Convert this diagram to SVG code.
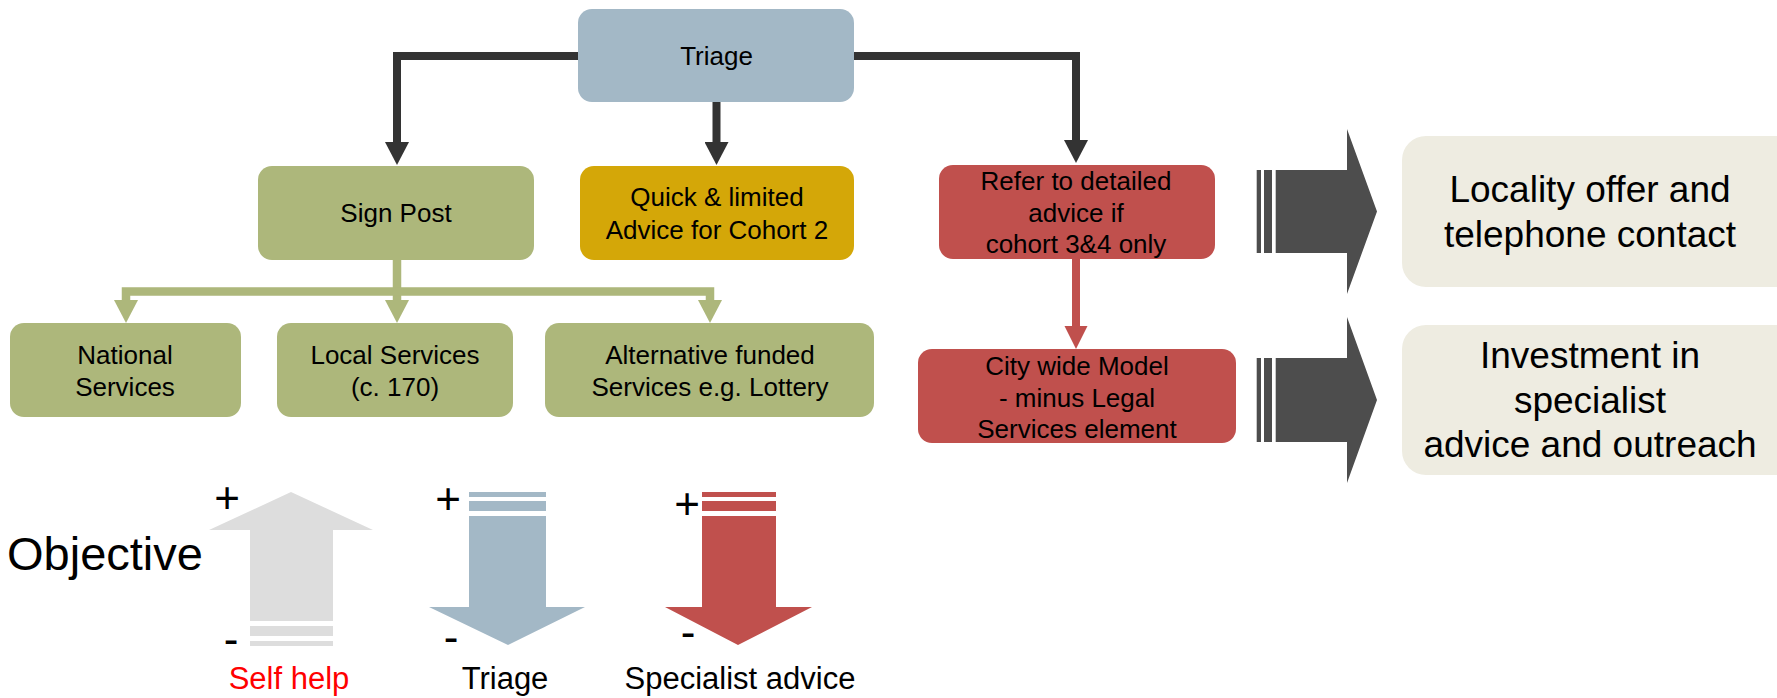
<svg xmlns="http://www.w3.org/2000/svg" width="1777" height="698" viewBox="0 0 1777 698">
<defs>
<style>
text{font-family:"Liberation Sans",Arial,Helvetica,sans-serif;fill:#000;text-anchor:middle}
.t{font-size:26px}
.big{font-size:37px}
.lab{font-size:31px}
.pm{font-size:44px}
.blue{fill:#A3B8C6}
.green{fill:#ADB77B}
.gold{fill:#D4A708}
.red{fill:#C0504D}
.beige{fill:#EEECE1}
.dark{fill:#4D4D4D}
.grey{fill:#DDDDDD}
.cd{fill:none;stroke:#333333;stroke-width:8;stroke-linejoin:miter}
.cg{fill:none;stroke:#ADB77B;stroke-width:8.5;stroke-linejoin:miter}
.cr{fill:none;stroke:#C0504D;stroke-width:8}
</style>
<marker id="ad" markerUnits="userSpaceOnUse" markerWidth="24" markerHeight="24" viewBox="0 0 24 24" refX="0" refY="12" orient="auto"><path d="M0,0 L23,12 L0,24 Z" fill="#333333"/></marker>
<marker id="ag" markerUnits="userSpaceOnUse" markerWidth="24" markerHeight="24" viewBox="0 0 24 24" refX="0" refY="12" orient="auto"><path d="M0,0 L23,12 L0,24 Z" fill="#ADB77B"/></marker>
<marker id="ar" markerUnits="userSpaceOnUse" markerWidth="24" markerHeight="24" viewBox="0 0 24 24" refX="0" refY="12" orient="auto"><path d="M0,0.5 L23,12 L0,23.5 Z" fill="#C0504D"/></marker>
</defs>

<g id="connectors">
<path class="cd" d="M580,56 H397 V142" marker-end="url(#ad)"/>
<path class="cd" d="M716.5,102 V142" marker-end="url(#ad)"/>
<path class="cd" d="M852,56 H1076 V140" marker-end="url(#ad)"/>
<path class="cg" d="M397,258 V300" marker-end="url(#ag)"/>
<path class="cg" d="M397,291.5 H126 V300" marker-end="url(#ag)"/>
<path class="cg" d="M397,291.5 H710 V300" marker-end="url(#ag)"/>
<path class="cr" d="M1076,258 V326" marker-end="url(#ar)"/>
</g>

<g id="triage">
<rect class="blue" x="578" y="9" width="276" height="93" rx="14"/>
<text class="t" x="716.5" y="65">Triage</text>
</g>
<g id="signpost">
<rect class="green" x="258" y="166" width="276" height="94" rx="14"/>
<text class="t" x="396" y="222">Sign Post</text>
</g>
<g id="quick">
<rect class="gold" x="580" y="166" width="274" height="94" rx="14"/>
<text class="t" x="717" y="206">Quick &amp; limited</text>
<text class="t" x="717" y="239">Advice for Cohort 2</text>
</g>
<g id="refer">
<rect class="red" x="939" y="165" width="276" height="94" rx="14"/>
<text class="t" x="1076" y="190">Refer to detailed</text>
<text class="t" x="1076" y="222">advice if</text>
<text class="t" x="1076" y="253">cohort 3&amp;4 only</text>
</g>
<g id="national">
<rect class="green" x="10" y="323" width="231" height="94" rx="14"/>
<text class="t" x="125" y="364">National</text>
<text class="t" x="125" y="396">Services</text>
</g>
<g id="local">
<rect class="green" x="277" y="323" width="236" height="94" rx="14"/>
<text class="t" x="395" y="364">Local Services</text>
<text class="t" x="395" y="396">(c. 170)</text>
</g>
<g id="alternative">
<rect class="green" x="545" y="323" width="329" height="94" rx="14"/>
<text class="t" x="710" y="364">Alternative funded</text>
<text class="t" x="710" y="396">Services e.g. Lottery</text>
</g>
<g id="citywide">
<rect class="red" x="918" y="349" width="318" height="94" rx="14"/>
<text class="t" x="1077" y="375">City wide Model</text>
<text class="t" x="1077" y="407">- minus Legal</text>
<text class="t" x="1077" y="438">Services element</text>
</g>

<g id="arrow1">
<rect class="dark" x="1256.7" y="170" width="4.3" height="83"/>
<rect class="dark" x="1264" y="170" width="8" height="83"/>
<path class="dark" d="M1275.7,170 H1347 V129 L1377,211.5 L1347,294 V253 H1275.7 Z"/>
</g>
<g id="arrow2">
<rect class="dark" x="1256.7" y="358" width="4.3" height="84"/>
<rect class="dark" x="1264" y="358" width="8" height="84"/>
<path class="dark" d="M1275.7,358 H1347 V317 L1377,400 L1347,483 V442 H1275.7 Z"/>
</g>

<g id="locality">
<rect class="beige" x="1402" y="136" width="400" height="151" rx="24"/>
<text class="big" x="1590" y="202">Locality offer and</text>
<text class="big" x="1590" y="247">telephone contact</text>
</g>
<g id="investment">
<rect class="beige" x="1402" y="325" width="400" height="150" rx="24"/>
<text class="big" x="1590" y="368">Investment in</text>
<text class="big" x="1590" y="413">specialist</text>
<text class="big" x="1590" y="457">advice and outreach</text>
</g>

<g id="objective">
<text x="105" y="570" style="font-size:47px">Objective</text>
</g>
<g id="selfhelp">
<path class="grey" d="M291,492 L373,530 H333 V621 H250 V530 H209 Z"/>
<rect class="grey" x="250" y="626" width="83" height="10"/>
<rect class="grey" x="250" y="641" width="83" height="5"/>
<text class="pm" x="227" y="513">+</text>
<text class="pm" x="231" y="654">-</text>
<text class="lab" x="289" y="689" style="fill:#FF0000">Self help</text>
</g>
<g id="triagearrow">
<rect class="blue" x="469" y="492" width="77" height="5"/>
<rect class="blue" x="469" y="501" width="77" height="10"/>
<path class="blue" d="M469,516 H546 V607 H585 L508,645 L429,607 H469 Z"/>
<text class="pm" x="448" y="514">+</text>
<text class="pm" x="451" y="652">-</text>
<text class="lab" x="505" y="689">Triage</text>
</g>
<g id="specialistarrow">
<rect class="red" x="702" y="492" width="74" height="5"/>
<rect class="red" x="702" y="501" width="74" height="10"/>
<path class="red" d="M702,516 H776 V607 H812 L738,645 L665,607 H702 Z"/>
<text class="pm" x="687" y="519">+</text>
<text class="pm" x="688" y="647">-</text>
<text class="lab" x="740" y="689">Specialist advice</text>
</g>
</svg>
